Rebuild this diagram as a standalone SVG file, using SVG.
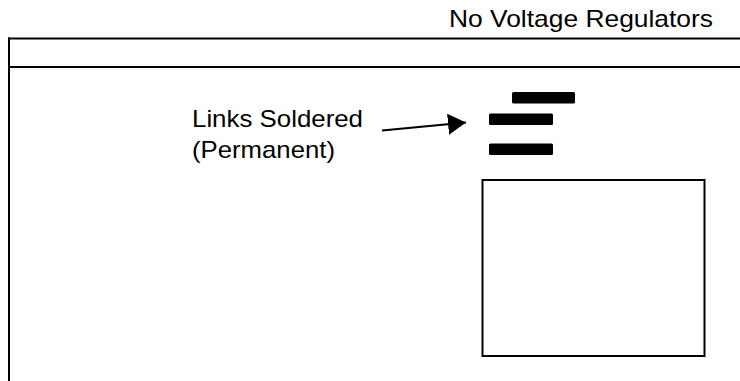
<svg xmlns="http://www.w3.org/2000/svg" width="740" height="381" viewBox="0 0 740 381">
<style>
  .ln { stroke: #000; stroke-width: 2; fill: none; }
  .lbl { font-family: "Liberation Sans", Arial, sans-serif; font-size: 24px; fill: #000; }
  .bar { fill: #000; }
</style>
<defs>
  <marker id="ah" markerUnits="userSpaceOnUse" markerWidth="20" markerHeight="22" refX="18" refY="10.5" orient="auto">
    <path d="M0,0 L18,10.5 L0,21 z" fill="#000"/>
  </marker>
</defs>
<rect width="740" height="381" fill="#fff"/>
<g id="frame">
  <line class="ln" x1="8" y1="38.5" x2="740" y2="38.5"/>
  <line class="ln" x1="8" y1="67" x2="740" y2="67"/>
  <line class="ln" x1="9" y1="37.5" x2="9" y2="381"/>
</g>
<g id="title">
  <text class="lbl" x="449" y="27" textLength="264" lengthAdjust="spacingAndGlyphs">No Voltage Regulators</text>
</g>
<g id="links">
  <rect class="bar" x="512" y="92" width="63" height="11.5" rx="1.5"/>
  <rect class="bar" x="489" y="113.5" width="64" height="11.5" rx="1.5"/>
  <rect class="bar" x="489" y="143.5" width="64" height="11.5" rx="1.5"/>
</g>
<g id="label">
  <text class="lbl" x="192" y="127" textLength="171" lengthAdjust="spacingAndGlyphs">Links Soldered</text>
  <text class="lbl" x="192" y="158" textLength="143" lengthAdjust="spacingAndGlyphs">(Permanent)</text>
</g>
<g id="box">
  <rect class="ln" x="482.5" y="180" width="222" height="176"/>
</g>
<g id="connectors">
  <line x1="382" y1="130.5" x2="466" y2="122.5" stroke="#000" stroke-width="2" marker-end="url(#ah)"/>
</g>
</svg>
